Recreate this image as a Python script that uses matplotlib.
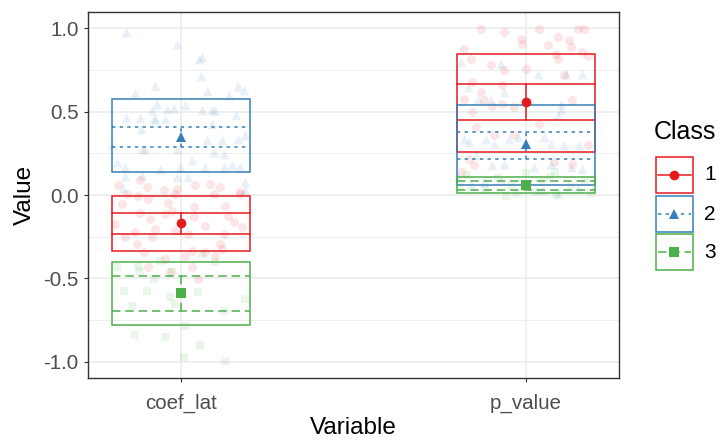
import numpy as np
import matplotlib
matplotlib.use("Agg")
import matplotlib.pyplot as plt
from matplotlib.patches import Rectangle

plt.rcParams['font.family'] = ['Liberation Sans', 'DejaVu Sans']

# variables on the x axis and the three classes
variables = ['coef_lat', 'p_value']
classes = ['1', '2', '3']

# summary per class: rows = class, cols = variable
mean_val = [[-0.169, 0.560], [0.350, 0.307], [-0.587, 0.060]]
inner_lo = [[-0.233, 0.452], [0.290, 0.217], [-0.698, 0.031]]
inner_hi = [[-0.109, 0.668], [0.410, 0.377], [-0.485, 0.083]]
outer_lo = [[-0.335, 0.257], [0.135, 0.057], [-0.782, 0.013]]
outer_hi = [[-0.007, 0.848], [0.574, 0.542], [-0.404, 0.107]]

# raw (jittered) observations: horizontal jitter offset and value
coef_c1_dx = [-0.182, -0.119, -0.100, -0.051, -0.013, 0.041, 0.084, 0.113, 0.171,
              -0.158, -0.124, -0.017, 0.094, 0.171, -0.172, -0.095, -0.037, 0.036, 0.128,
              -0.119, -0.090, -0.046, -0.027, 0.036, 0.137, -0.191, -0.075, -0.017, 0.070,
              0.176, 0.152, -0.133, -0.162, -0.085, 0.021, 0.123, -0.129, -0.109, 0.113,
              0.031, 0.012, 0.070, 0.099, 0.118, -0.046, 0.031, -0.032, 0.050, -0.095]
coef_c1_y = [0.057, 0.087, 0.047, 0.027, 0.037, 0.057, 0.067, 0.047, 0.017,
             0.007, -0.003, 0.007, 0.007, 0.007, -0.053, -0.023, -0.049, -0.069, -0.063,
             -0.109, -0.143, -0.113, -0.093, -0.133, -0.123, -0.173, -0.203, -0.213, -0.183,
             -0.189, -0.163, -0.223, -0.253, -0.253, -0.233, -0.233, -0.293, -0.343, -0.293,
             -0.333, -0.363, -0.343, -0.363, -0.323, -0.383, -0.433, -0.463, -0.503, -0.433]

coef_c2_dx = [-0.160, -0.013, 0.052, 0.062, 0.058, -0.075, -0.133, 0.074, 0.139, 0.166,
              0.181, -0.071, -0.085, -0.042, -0.022, 0.012, 0.060, 0.089, 0.099, 0.159,
              -0.160, -0.119, -0.080, -0.075, -0.046, 0.089, -0.116, 0.074, 0.118, 0.166,
              0.186, -0.114, -0.104, -0.013, 0.094, 0.123, -0.187, -0.162, -0.061, -0.003,
              0.031, 0.070, 0.123, 0.147, 0.171, -0.162, -0.114, -0.013, 0.021, 0.186,
              -0.201, -0.168, 0.186]
coef_c2_y = [0.977, 0.903, 0.817, 0.827, 0.711, 0.651, 0.611, 0.623, 0.597, 0.651,
             0.627, 0.547, 0.511, 0.517, 0.523, 0.537, 0.511, 0.511, 0.507, 0.477,
             0.463, 0.461, 0.463, 0.447, 0.457, 0.427, 0.397, 0.327, 0.331, 0.337,
             0.357, 0.277, 0.277, 0.277, 0.257, 0.247, 0.197, 0.167, 0.157, 0.167,
             0.207, 0.167, 0.167, 0.177, 0.167, 0.111, 0.117, 0.107, 0.107, 0.077,
             0.297, 0.040, 0.030]

coef_c3_dx = [-0.187, -0.119, -0.061, -0.027, 0.060, -0.080, -0.167, -0.100, -0.032,
              0.050, 0.186, -0.143, -0.017, 0.123, 0.012, -0.133, -0.046, 0.055, 0.007,
              0.128, -0.124, 0.099]
coef_c3_y = [-0.433, -0.453, -0.393, -0.463, -0.353, -0.503, -0.573, -0.573, -0.609,
             -0.583, -0.623, -0.663, -0.653, -0.693, -0.783, -0.837, -0.853, -0.897, -0.973,
             -0.997, -0.433, -0.403]

pval_c1_dx = [-0.131, -0.063, 0.039, 0.150, 0.169, -0.015, -0.010, 0.092, 0.063, 0.126,
              0.131, -0.179, 0.087, 0.092, 0.164, 0.179, -0.160, -0.102, -0.063, 0.000,
              -0.155, -0.131, -0.068, 0.111, -0.179, -0.121, -0.097, -0.068, -0.034, 0.135,
              -0.155, -0.145, -0.092, 0.039, -0.034, 0.179, 0.135, -0.164, -0.189, 0.082,
              -0.150]
pval_c1_y = [0.997, 0.977, 0.997, 0.997, 0.997, 0.937, 0.907, 0.947, 0.897, 0.927,
             0.887, 0.877, 0.847, 0.817, 0.857, 0.831, 0.817, 0.777, 0.747, 0.757,
             0.677, 0.617, 0.657, 0.717, 0.577, 0.567, 0.531, 0.547, 0.527, 0.567,
             0.497, 0.407, 0.357, 0.427, 0.357, 0.297, 0.187, 0.217, 0.137, 0.197,
             0.177]

pval_c2_dx = [-0.189, -0.073, 0.034, 0.116, 0.164, -0.169, -0.140, -0.102, -0.063, 0.102,
              0.102, 0.092, -0.179, -0.164, -0.116, -0.092, -0.048, -0.024, 0.053, 0.073,
              0.111, 0.155, -0.145, -0.097, -0.063, 0.024, 0.073, 0.131, 0.164, -0.198,
              -0.160, -0.121, -0.073, 0.092, 0.050, 0.150, -0.030]
pval_c2_y = [0.797, 0.787, 0.727, 0.727, 0.727, 0.647, 0.577, 0.567, 0.617, 0.547,
             0.507, 0.477, 0.337, 0.317, 0.337, 0.307, 0.337, 0.347, 0.347, 0.307,
             0.297, 0.297, 0.237, 0.177, 0.187, 0.167, 0.187, 0.167, 0.157, 0.107,
             0.067, 0.077, 0.087, 0.007, 0.030, 0.040, 0.020]

pval_c3_dx = [-0.170, -0.120, -0.080, -0.040, 0.000, 0.030, 0.070, 0.085, 0.130, 0.170,
              0.190, -0.190, 0.050, -0.058, 0.087]
pval_c3_y = [0.120, 0.030, 0.100, 0.060, 0.130, 0.020, 0.110, 0.135, 0.050, 0.090,
             0.010, 0.050, 0.080, -0.003, 0.007]

jitter_dx = [[coef_c1_dx, pval_c1_dx], [coef_c2_dx, pval_c2_dx], [coef_c3_dx, pval_c3_dx]]
jitter_y = [[coef_c1_y, pval_c1_y], [coef_c2_y, pval_c2_y], [coef_c3_y, pval_c3_y]]

colors = ['#E41A1C', '#377EB8', '#4DAF4A']
markers = ['o', '^', 's']
pt_size = [42, 48, 34]
linestyles = ['-', (0, (2.2, 2.8)), (0, (5.5, 3.2))]
lw = 1.1
half = 0.2

fig = plt.figure(figsize=(7.21, 4.40), dpi=100)
ax = fig.add_axes([88 / 721, 1 - 378.4 / 440, (619 - 88) / 721, (378.4 - 11.6) / 440])

xpos = np.arange(1, len(variables) + 1)

# faint jittered observations
for k in range(len(classes)):
    for i in range(len(variables)):
        ax.scatter(xpos[i] + np.array(jitter_dx[k][i]), jitter_y[k][i], marker=markers[k],
                   s=pt_size[k], color=colors[k], alpha=0.11, linewidths=0, zorder=2)

# boxes, inner lines, error bar and mean
for k in range(len(classes)):
    for i in range(len(variables)):
        x0 = xpos[i] - half
        ax.add_patch(Rectangle((x0, outer_lo[k][i]), 2 * half, outer_hi[k][i] - outer_lo[k][i],
                               fill=False, edgecolor=colors[k], lw=lw, zorder=3))
        for yy in (inner_lo[k][i], inner_hi[k][i]):
            ax.plot([x0, x0 + 2 * half], [yy, yy], color=colors[k], lw=lw,
                    linestyle=linestyles[k], zorder=3)
        ax.plot([xpos[i], xpos[i]], [inner_lo[k][i], inner_hi[k][i]], color=colors[k], lw=lw,
                linestyle=linestyles[k], zorder=3)
        ax.plot(xpos[i], mean_val[k][i], marker=markers[k], ms=7, color=colors[k],
                markeredgewidth=0, zorder=4)

ax.set_xlim(0.73, 2.27)
ax.set_ylim(-1.1, 1.1)
ax.set_xticks(xpos)
ax.set_xticklabels(variables)
ax.set_yticks([-1.0, -0.5, 0.0, 0.5, 1.0])
ax.set_yticklabels(['-1.0', '-0.5', '0.0', '0.5', '1.0'])
ax.set_yticks([-0.75, -0.25, 0.25, 0.75], minor=True)
ax.tick_params(axis='both', which='major', labelsize=14.8, labelcolor='#4D4D4D',
               color='#333333', length=3.2, width=0.8)
ax.tick_params(axis='x', pad=8)
ax.tick_params(axis='y', which='minor', length=0)
ax.grid(True, which='major', color='#EBEBEB', lw=1.1, zorder=0)
ax.grid(True, which='minor', axis='y', color='#EBEBEB', lw=0.6, zorder=0)
ax.set_axisbelow(True)
for sp in ax.spines.values():
    sp.set_color('#333333')
    sp.set_linewidth(1.0)
ax.set_xlabel('Variable', fontsize=17.5, labelpad=3)
ax.set_ylabel('Value', fontsize=17.5, labelpad=5)

# legend drawn in figure pixels
lax = fig.add_axes([0, 0, 1, 1])
lax.set_xlim(0, 721)
lax.set_ylim(440, 0)
lax.axis('off')
lax.text(654, 132, 'Class', fontsize=18, va='center', ha='left')
key_top = [156.7, 196.0, 234.3]
for k in range(len(classes)):
    y0 = key_top[k]
    lax.add_patch(Rectangle((656, y0), 36.5, 36, fill=False, edgecolor=colors[k], lw=lw))
    yc = y0 + 18
    lax.plot([658, 690.5], [yc, yc], color=colors[k], lw=lw, linestyle=linestyles[k])
    lax.plot(674.2, yc, marker=markers[k], ms=7, color=colors[k], markeredgewidth=0)
    lax.text(704, yc, classes[k], fontsize=15, va='center', ha='left')

fig.savefig('out.png', dpi=100)
